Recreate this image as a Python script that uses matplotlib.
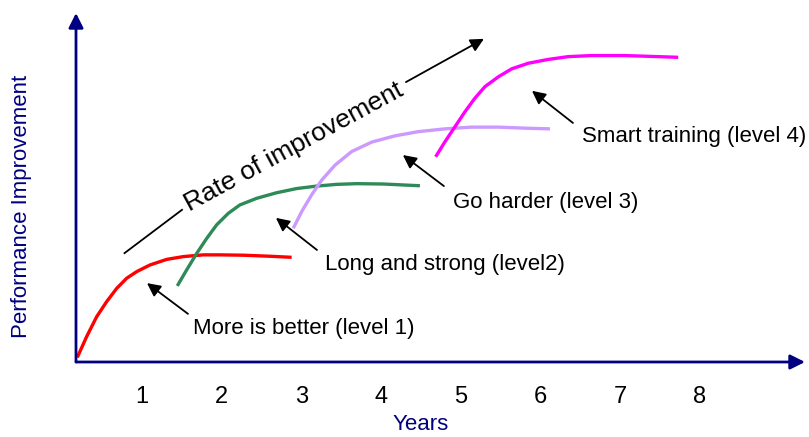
import numpy as np
import matplotlib.pyplot as plt

plt.rcParams['font.family'] = ['Liberation Sans', 'DejaVu Sans']

navy = '#000080'

# curves (years, performance)
lvl1_x = [0.188, 0.306, 0.432, 0.557, 0.683, 0.808, 0.934, 1.100, 1.310, 1.518,
          1.769, 1.979, 2.271, 2.606, 2.878]
lvl1_y = [1.3, 7.3, 13.0, 17.3, 21.1, 24.0, 25.9, 27.8, 29.4, 30.2,
          30.7, 30.7, 30.6, 30.3, 30.0]
lvl2_x = [1.443, 1.561, 1.686, 1.812, 1.937, 2.083, 2.228, 2.439, 2.690, 2.941,
          3.192, 3.443, 3.694, 4.028, 4.488]
lvl2_y = [21.8, 26.4, 31.1, 35.4, 39.3, 42.6, 45.0, 46.9, 48.5, 49.7,
          50.4, 50.9, 51.1, 51.0, 50.5]
lvl3_x = [2.898, 3.004, 3.129, 3.255, 3.422, 3.631, 3.882, 4.174, 4.467, 4.802,
          5.137, 5.471, 5.806, 6.120]
lvl3_y = [38.3, 43.1, 47.9, 52.1, 56.4, 60.3, 63.0, 64.8, 66.0, 66.8,
          67.3, 67.3, 67.0, 66.8]
lvl4_x = [4.685, 4.802, 4.927, 5.053, 5.178, 5.304, 5.471, 5.639, 5.847, 6.098,
          6.349, 6.642, 7.060, 7.478, 7.729]
lvl4_y = [58.8, 63.1, 67.4, 71.7, 75.6, 78.9, 81.7, 84.0, 85.6, 86.7,
          87.5, 87.8, 87.8, 87.5, 87.3]

years = [1, 2, 3, 4, 5, 6, 7, 8]

labels = ['More is better (level 1)', 'Long and strong (level2)',
          'Go harder (level 3)', 'Smart training (level 4)']
label_pos = [(1.640, 9.5), (3.296, 27.8), (4.902, 45.8), (6.521, 64.5)]
arrow_tail = [(1.577, 13.8), (3.196, 32.1), (4.789, 50.4), (6.408, 68.5)]
arrow_head = [(1.063, 22.6), (2.681, 41.3), (4.274, 59.3), (5.894, 77.7)]

fig = plt.figure(figsize=(8.09, 4.37), dpi=100)
ax = fig.add_axes([76/809, 75/437, 729/809, 349/437])
ax.set_xlim(0.172, 9.32)
ax.set_ylim(0, 100)
for s in ax.spines.values():
    s.set_visible(False)
ax.set_yticks([])
ax.set_xticks(years)
ax.tick_params(axis='x', length=0, labelsize=17, pad=17)

# axes with arrow heads
ax.annotate('', xy=(0, 1), xytext=(0, 0), xycoords='axes fraction',
            arrowprops=dict(arrowstyle='-|>', color=navy, lw=2, mutation_scale=22,
                            shrinkA=0, shrinkB=0), annotation_clip=False)
ax.annotate('', xy=(1, 0), xytext=(0, 0), xycoords='axes fraction',
            arrowprops=dict(arrowstyle='-|>', color=navy, lw=2, mutation_scale=22,
                            shrinkA=0, shrinkB=0), annotation_clip=False)

ax.plot(lvl1_x, lvl1_y, color='#ff0000', lw=2.4, solid_capstyle='butt')
ax.plot(lvl2_x, lvl2_y, color='#2e8b57', lw=2.4, solid_capstyle='butt')
ax.plot(lvl3_x, lvl3_y, color='#cc99ff', lw=2.4, solid_capstyle='butt')
ax.plot(lvl4_x, lvl4_y, color='#ff00ff', lw=2.4, solid_capstyle='butt')

for txt, p, t, h in zip(labels, label_pos, arrow_tail, arrow_head):
    ax.text(p[0], p[1], txt, fontsize=16, va='center', ha='left')
    ax.annotate('', xy=h, xytext=t,
                arrowprops=dict(arrowstyle='-|>', color='black', lw=1.3,
                                mutation_scale=20, shrinkA=0, shrinkB=0))

# rate of improvement line + arrow
ax.plot([0.781, 1.502], [31.2, 43.6], color='black', lw=1.3)
ax.annotate('', xy=(5.291, 92.6), xytext=(4.312, 80.2),
            arrowprops=dict(arrowstyle='-|>', color='black', lw=1.3,
                            mutation_scale=20, shrinkA=0, shrinkB=0))
ax.text(2.907, 61.6, 'Rate of improvement', fontsize=19, rotation=28.5,
        ha='center', va='center', rotation_mode='anchor')

fig.text(421/809, 1 - 425/437, 'Years', color=navy, fontsize=16,
         ha='center', va='center')
fig.text(22/809, 1 - 206/437, 'Performance Improvement', color=navy, fontsize=16,
         rotation=90, ha='center', va='center')

fig.savefig('out.png', dpi=100)
